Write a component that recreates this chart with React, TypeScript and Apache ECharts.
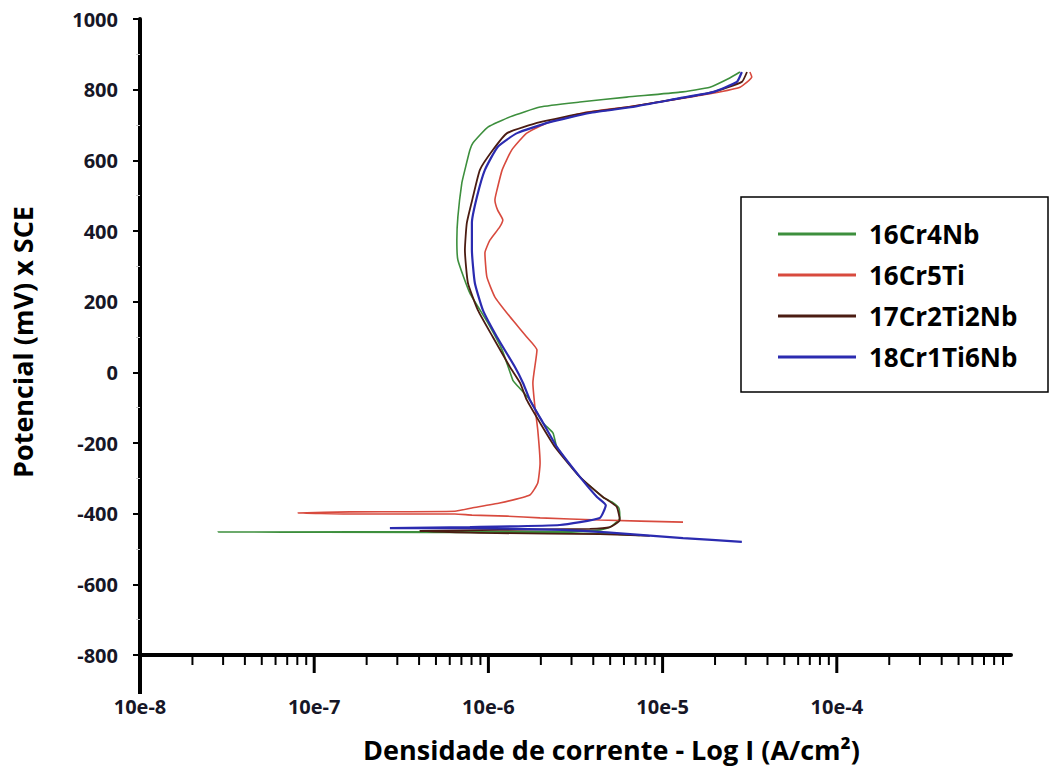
import React, { useEffect, useRef } from "react";
import * as echarts from "echarts";

// Potentiodynamic polarization curves: current density (A/cm², log) vs potential (mV x SCE)
const seriesNames = ["16Cr4Nb", "16Cr5Ti", "17Cr2Ti2Nb", "18Cr1Ti6Nb"];
const seriesColors = ["#3d8f3d", "#d84a3e", "#4b1c12", "#2b2bb0"];

const curve16Cr4Nb: [number, number][] = [
  [7.4e-6, -462], [5.5e-6, -458], [3.0e-6, -455], [1.0e-6, -453], [2.8e-8, -452],
  [1.0e-6, -451], [3.0e-6, -450], [4.4e-6, -446], [5.0e-6, -438], [5.68e-6, -412],
  [5.61e-6, -384], [5.12e-6, -367], [4.54e-6, -353], [3.35e-6, -296], [2.47e-6, -211],
  [2.35e-6, -172], [2.06e-6, -143], [1.73e-6, -78], [1.42e-6, -30], [1.38e-6, -22],
  [1.2e-6, 63], [9.93e-7, 140], [7.83e-7, 224], [6.68e-7, 318], [6.59e-7, 374],
  [6.68e-7, 440], [7.04e-7, 536], [7.33e-7, 573], [7.83e-7, 629], [8.15e-7, 649],
  [9.93e-7, 694], [1.33e-6, 723], [1.98e-6, 751], [3.35e-6, 765], [6.23e-6, 779],
  [1.26e-5, 793], [1.87e-5, 807], [2.43e-5, 833], [2.78e-5, 850],
];

const curve16Cr5Ti: [number, number][] = [
  [1.31e-5, -424], [4.36e-6, -418], [1.98e-6, -412], [1.28e-6, -407], [8.04e-7, -404],
  [6.42e-7, -401], [1.6e-7, -401], [8.07e-8, -398], [1.6e-7, -395], [6.42e-7, -393],
  [8.04e-7, -384], [1.16e-6, -370], [1.73e-6, -347], [1.92e-6, -313], [1.98e-6, -257],
  [1.92e-6, -163], [1.85e-6, -98], [1.8e-6, -30], [1.9e-6, 63], [1.66e-6, 100],
  [1.33e-6, 157], [1.09e-6, 213], [9.8e-7, 270], [9.55e-7, 338], [1.02e-6, 374],
  [1.16e-6, 411], [1.21e-6, 431], [1.13e-6, 459], [1.09e-6, 488], [1.12e-6, 516],
  [1.2e-6, 573], [1.36e-6, 629], [1.66e-6, 677], [2.17e-6, 706], [3.49e-6, 734],
  [6.23e-6, 751], [1.14e-5, 771], [1.94e-5, 790], [2.78e-5, 807], [3.25e-5, 836],
  [3.17e-5, 850],
];

const curve17Cr2Ti2Nb: [number, number][] = [
  [8.45e-6, -463], [4.36e-6, -458], [1.12e-6, -455], [4.05e-7, -449], [1.16e-6, -446],
  [3.82e-6, -443], [4.98e-6, -438], [5.68e-6, -418], [5.46e-6, -381], [4.85e-6, -362],
  [4.54e-6, -353], [3.35e-6, -296], [2.41e-6, -211], [1.98e-6, -143], [1.66e-6, -78],
  [1.52e-6, -30], [1.33e-6, 15], [1.06e-6, 100], [8.7e-7, 176], [7.63e-7, 253],
  [7.33e-7, 346], [7.52e-7, 423], [8.15e-7, 496], [8.94e-7, 573], [1.06e-6, 629],
  [1.28e-6, 677], [1.98e-6, 708], [3.58e-6, 734], [6.49e-6, 751], [1.21e-5, 774],
  [1.94e-5, 793], [2.85e-5, 822], [3.05e-5, 850],
];

const curve18Cr1Ti6Nb: [number, number][] = [
  [2.85e-5, -480], [1.31e-5, -469], [5.46e-6, -455], [2.68e-6, -446], [7.83e-7, -441],
  [2.72e-7, -441], [7.83e-7, -438], [2.57e-6, -432], [4.36e-6, -412], [4.72e-6, -376],
  [4.2e-6, -353], [3.35e-6, -296], [2.47e-6, -211], [2.06e-6, -143], [1.73e-6, -78],
  [1.58e-6, -30], [1.42e-6, 15], [1.12e-6, 100], [9.3e-7, 176], [8.36e-7, 253],
  [8.04e-7, 346], [8.04e-7, 423], [8.59e-7, 496], [9.55e-7, 573], [1.13e-6, 638],
  [1.46e-6, 677], [2.25e-6, 708], [3.82e-6, 734], [6.75e-6, 751], [1.26e-5, 776],
  [1.94e-5, 793], [2.67e-5, 822], [2.85e-5, 850],
];

const curves = [curve16Cr4Nb, curve16Cr5Ti, curve17Cr2Ti2Nb, curve18Cr1Ti6Nb];
const lineWidths = [1.6, 1.6, 1.8, 2.2];

// Decade labels of the current axis
const decadeValues = [1e-8, 1e-7, 1e-6, 1e-5, 1e-4];
const decadeLabels = ["10e-8", "10e-7", "10e-6", "10e-5", "10e-4"];
const minorMultipliers = [2, 3, 4, 5, 6, 7, 8, 9];

const FONT = "'Open Sans', 'DejaVu Sans', sans-serif";

export default function App() {
  const ref = useRef<HTMLDivElement>(null);

  useEffect(() => {
    if (!ref.current) return;
    const chart = echarts.init(ref.current, null, { renderer: "svg" });

    // Decade (major) and sub-decade (minor) ticks for the log axis
    const tickData: number[][] = [];
    decadeValues.forEach((d) => {
      tickData.push([d, -800, 1]);
      minorMultipliers.forEach((k) => tickData.push([k * d, -800, 0]));
    });

    const lineSeries = seriesNames.map((name, i) => ({
      name,
      type: "line",
      data: curves[i],
      symbol: "none",
      showSymbol: false,
      smooth: 0.15,
      color: seriesColors[i],
      lineStyle: { color: seriesColors[i], width: lineWidths[i] },
      z: 3 + i,
    }));

    chart.setOption({
      animation: false,
      backgroundColor: "#ffffff",
      grid: {
        left: 140,
        right: 50,
        top: 19,
        bottom: 117,
        containLabel: false,
        outerBoundsMode: "none",
      },
      xAxis: {
        type: "log",
        logBase: 10,
        min: 1e-8,
        max: 1e-3,
        name: "Densidade de corrente - Log I (A/cm²)",
        nameLocation: "middle",
        nameGap: 81,
        nameTextStyle: {
          fontSize: 27,
          fontWeight: "bold",
          fontFamily: FONT,
          color: "#000",
          padding: [0, 0, 0, 72],
        },
        axisLine: { show: true, onZero: false, lineStyle: { color: "#000", width: 4 } },
        axisTick: { show: false },
        splitLine: { show: false },
        axisLabel: {
          margin: 41,
          fontSize: 20,
          fontWeight: "bold",
          fontFamily: FONT,
          color: "#161626",
          formatter: (v: number) => {
            const idx = decadeValues.findIndex((d) => Math.abs(Math.log10(d) - Math.log10(v)) < 1e-6);
            return idx >= 0 ? decadeLabels[idx] : "";
          },
        },
      },
      yAxis: {
        type: "value",
        min: -800,
        max: 1000,
        interval: 200,
        name: "Potencial (mV) x SCE",
        nameLocation: "middle",
        nameGap: 104,
        nameTextStyle: {
          fontSize: 27,
          fontWeight: "bold",
          fontFamily: FONT,
          color: "#000",
          padding: [0, 10, 0, 0],
        },
        axisLine: { show: true, lineStyle: { color: "#000", width: 4 } },
        axisTick: { show: true, length: 7, lineStyle: { color: "#000", width: 2 } },
        minorTick: { show: true, splitNumber: 2, length: 4, lineStyle: { color: "#c8c8c8", width: 1 } },
        splitLine: { show: false },
        axisLabel: {
          margin: 22,
          fontSize: 20,
          fontWeight: "bold",
          fontFamily: FONT,
          color: "#161626",
          formatter: (v: number) => String(v),
        },
      },
      legend: {
        data: seriesNames,
        orient: "vertical",
        left: 773,
        top: 216,
        itemWidth: 78,
        itemHeight: 3,
        itemGap: 15,
        icon: "rect",
        selectedMode: false,
        textStyle: {
          fontSize: 26,
          fontWeight: "bold",
          fontFamily: FONT,
          color: "#000",
          padding: [0, 0, 0, 8],
        },
      },
      graphic: [
        {
          type: "rect",
          shape: { x: 741, y: 197, width: 307, height: 195 },
          style: { fill: "none", stroke: "#000", lineWidth: 1.5 },
          z: 1,
        },
        {
          type: "line",
          shape: { x1: 140, y1: 655, x2: 140, y2: 694 },
          style: { stroke: "#000", lineWidth: 4 },
        },
      ],
      series: [
        ...lineSeries,
        {
          type: "custom",
          name: "ticks",
          clip: false,
          silent: true,
          data: tickData,
          renderItem: (_params: any, api: any) => {
            const p = api.coord([api.value(0), api.value(1)]);
            const major = api.value(2) === 1;
            return {
              type: "line",
              shape: { x1: p[0], y1: p[1], x2: p[0], y2: p[1] + (major ? 18 : 10) },
              style: { stroke: "#000", lineWidth: major ? 3 : 2 },
            };
          },
          z: 2,
        },
      ],
    });

    return () => chart.dispose();
  }, []);

  return (
    <div style={{ position: "fixed", left: 0, top: 0, width: 1061, height: 772, background: "#fff" }}>
      <div ref={ref} style={{ width: 1061, height: 772 }} />
    </div>
  );
}
